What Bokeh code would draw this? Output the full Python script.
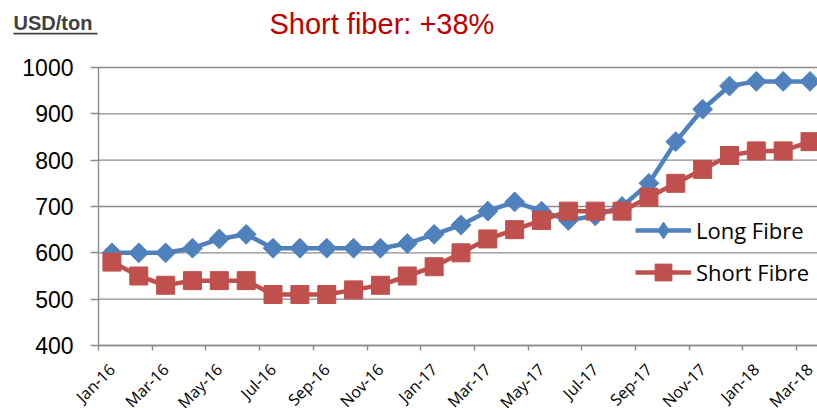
import numpy as np
from bokeh.plotting import figure
from bokeh.models import (ColumnDataSource, FixedTicker, Label, Legend, LegendItem,
                          BoxAnnotation, Range1d)
from bokeh.embed import file_html
from bokeh.resources import INLINE

# ---------------- data ----------------
months = ["Jan-16", "Feb-16", "Mar-16", "Apr-16", "May-16", "Jun-16", "Jul-16", "Aug-16",
          "Sep-16", "Oct-16", "Nov-16", "Dec-16", "Jan-17", "Feb-17", "Mar-17", "Apr-17",
          "May-17", "Jun-17", "Jul-17", "Aug-17", "Sep-17", "Oct-17", "Nov-17", "Dec-17",
          "Jan-18", "Feb-18", "Mar-18"]
long_fibre = [600, 600, 600, 610, 630, 640, 610, 610, 610, 610, 610, 620, 640, 660, 690, 710,
              690, 670, 680, 700, 750, 840, 910, 960, 970, 970, 970]
short_fibre = [580, 550, 530, 540, 540, 540, 510, 510, 510, 520, 530, 550, 570, 600, 630, 650,
               670, 690, 690, 690, 720, 750, 780, 810, 820, 820, 840]
y_ticks = [400, 500, 600, 700, 800, 900, 1000]
series_names = ["Long Fibre", "Short Fibre"]
title_text = "Short fiber: +38%"
unit_text = "USD/ton"

# ---------------- layout helpers ----------------
W, H = 817, 408
PLOT_L, PLOT_T, PLOT_B = 98, 67, 345          # plot-area edges in page pixels
n = len(months)
idx = list(range(n))
label_idx = idx[::2]
boundaries = [i - 0.5 for i in idx[::2]]
cat_px = 26.85                                  # px per category
x_start = -0.5 - PLOT_L / cat_px
x_end = -0.5 + (W - PLOT_L) / cat_px
ypp = (PLOT_B - PLOT_T) / (y_ticks[-1] - y_ticks[0])
y_start = y_ticks[0] - (H - PLOT_B) / ypp
y_end = y_ticks[-1] + PLOT_T / ypp

LONG_C = "#4F81BD"
SHORT_C = "#C0504D"
GRID_C = "#8C8C8C"

src = ColumnDataSource(dict(x=idx, long=long_fibre, short=short_fibre))

p = figure(width=W, height=H, output_backend="svg", toolbar_location=None,
           x_range=Range1d(x_start, x_end), y_range=Range1d(y_start, y_end),
           min_border=0)
p.outline_line_color = None
p.background_fill_color = "white"
p.border_fill_color = "white"
p.xgrid.visible = False
p.ygrid.visible = False

# horizontal grid lines, only across the plot area
p.segment(x0=[-0.5] * len(y_ticks), x1=[x_end] * len(y_ticks), y0=y_ticks, y1=y_ticks,
          line_color=GRID_C, line_width=1.4)

# y axis drawn at the left edge of the plot area
p.yaxis.fixed_location = -0.5
p.yaxis.bounds = (y_ticks[0], y_ticks[-1])
p.yaxis.ticker = FixedTicker(ticks=y_ticks)
p.yaxis.axis_line_color = GRID_C
p.yaxis.axis_line_width = 1.4
p.yaxis.major_tick_line_color = GRID_C
p.yaxis.major_tick_line_width = 1.4
p.yaxis.major_tick_out = 8
p.yaxis.major_tick_in = 0
p.yaxis.minor_tick_line_color = None
p.yaxis.major_label_standoff = 17
p.yaxis.major_label_text_font = "Liberation Sans"
p.yaxis.major_label_text_font_size = "23px"
p.yaxis.major_label_text_color = "black"

# x axis drawn at y = 400; labels every other month, ticks at category boundaries
label_pos = [float(i) for i in label_idx]
p.xaxis.fixed_location = y_ticks[0]
p.xaxis.bounds = (-0.5, x_end)
p.xaxis.ticker = FixedTicker(ticks=label_pos, minor_ticks=boundaries)
p.xaxis.major_label_overrides = {i: months[i] for i in label_idx}
p.xaxis.axis_line_color = GRID_C
p.xaxis.axis_line_width = 1.4
p.xaxis.major_tick_line_color = None
p.xaxis.major_tick_out = 0
p.xaxis.major_tick_in = 0
p.xaxis.minor_tick_line_color = GRID_C
p.xaxis.minor_tick_line_width = 1.4
p.xaxis.minor_tick_out = 5
p.xaxis.minor_tick_in = 0
p.xaxis.major_label_orientation = np.pi / 4
p.xaxis.major_label_standoff = 16
p.xaxis.major_label_text_font = "Open Sans"
p.xaxis.major_label_text_font_size = "16px"
p.xaxis.major_label_text_color = "black"

# series
l1 = p.line("x", "long", source=src, line_color=LONG_C, line_width=4.5)
# narrow diamond hidden under the rotated squares; it supplies the legend glyph
m1_leg = p.scatter("x", "long", source=src, marker="diamond", size=14,
                   fill_color=LONG_C, line_color=LONG_C)
m1 = p.scatter("x", "long", source=src, marker="square", angle=np.pi / 4, size=14,
               fill_color=LONG_C, line_color=LONG_C)
l2 = p.line("x", "short", source=src, line_color=SHORT_C, line_width=4.5)
m2 = p.scatter("x", "short", source=src, marker="square", size=18,
               fill_color=SHORT_C, line_color=SHORT_C)

GH = 42
legend = Legend(items=[LegendItem(label=series_names[0], renderers=[l1, m1_leg]),
                       LegendItem(label=series_names[1], renderers=[l2, m2])],
                location=(635, H - 293), orientation="vertical",
                glyph_width=56, glyph_height=GH, label_height=GH, label_width=100,
                spacing=36 - GH, padding=0, margin=0, label_standoff=5,
                border_line_color=None, background_fill_alpha=0,
                label_text_font="Open Sans", label_text_font_size="22px",
                label_text_color="black", label_text_baseline="middle")
p.add_layout(legend, "center")

# texts above the plot area (frame covers the whole canvas)
p.add_layout(Label(x=269, y=H - 33 + 10, x_units="screen", y_units="screen", text=title_text,
                   text_font="Liberation Sans", text_font_size="29px", text_color="#C00000",
                   text_baseline="alphabetic", text_align="left"))
p.add_layout(Label(x=13, y=H - 29 + 7, x_units="screen", y_units="screen", text=unit_text,
                   text_font="Liberation Sans", text_font_size="20px", text_font_style="bold",
                   text_color="#404040", text_baseline="alphabetic", text_align="left"))
p.add_layout(BoxAnnotation(left=13, right=97, bottom=H - 34, top=H - 32.3,
                           left_units="screen", right_units="screen",
                           bottom_units="screen", top_units="screen",
                           fill_color="#404040", fill_alpha=1, line_color=None))

open("out.html", "w").write(file_html(p, INLINE))
